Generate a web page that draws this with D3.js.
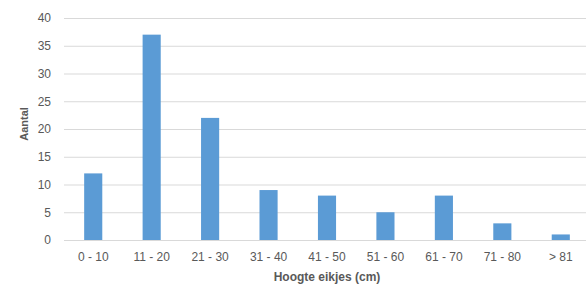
<!DOCTYPE html>
<html>
<head>
<meta charset="utf-8">
<script src="https://cdn.jsdelivr.net/npm/d3@7"></script>
<style>
  body { margin: 0; background: #fff; }
  text { font-family: "Liberation Sans", Arial, sans-serif; fill: #595959; }
</style>
</head>
<body>
<div id="chart"></div>
<script>
// data
const categories = ['0 - 10', '11 - 20', '21 - 30', '31 - 40', '41 - 50', '51 - 60', '61 - 70', '71 - 80', '> 81'];
const counts = [12, 37, 22, 9, 8, 5, 8, 3, 1];
const yTicks = [0, 5, 10, 15, 20, 25, 30, 35, 40];
const xTitle = 'Hoogte eikjes (cm)';
const yTitle = 'Aantal';

const W = 586, H = 284;
const margin = { top: 18, right: -4, bottom: 44, left: 64 };

const svg = d3.select('#chart')
    .append('svg')
    .attr('width', W)
    .attr('height', H);

const x = d3.scaleBand()
    .domain(categories)
    .range([margin.left, W - margin.right])
    .paddingInner(0.69)
    .paddingOuter(0.345);

const y = d3.scaleLinear()
    .domain([0, 40])
    .range([H - margin.bottom, margin.top]);

// gridlines + y labels
const yAxisG = svg.append('g')
    .attr('transform', 'translate(' + margin.left + ',0)')
    .call(d3.axisLeft(y).tickValues(yTicks).tickSize(-(W - margin.left)).tickPadding(13));
yAxisG.select('.domain').remove();
yAxisG.selectAll('.tick line').attr('stroke', '#d9d9d9').attr('stroke-width', 1);
yAxisG.selectAll('.tick text')
    .style('font-size', '12px')
    .attr('fill', '#595959');

// bars
svg.append('g')
    .selectAll('rect')
    .data(counts)
    .join('rect')
    .attr('x', (d, i) => x(categories[i]))
    .attr('y', d => y(d))
    .attr('width', x.bandwidth())
    .attr('height', d => y(0) - y(d))
    .attr('fill', '#5b9bd5');

// x labels
const xAxisG = svg.append('g')
    .attr('transform', 'translate(0,' + y(0) + ')')
    .call(d3.axisBottom(x).tickSize(0).tickPadding(12));
xAxisG.select('.domain').remove();
xAxisG.selectAll('.tick text')
    .style('font-size', '12px')
    .attr('fill', '#595959');

// axis titles
svg.append('text')
    .attr('x', (margin.left + W - margin.right) / 2)
    .attr('y', 281)
    .attr('text-anchor', 'middle')
    .style('font-size', '12px')
    .style('font-weight', 'bold')
    .text(xTitle);

svg.append('text')
    .attr('transform', 'translate(28,' + 124 + ') rotate(-90)')
    .attr('text-anchor', 'middle')
    .style('font-size', '11px')
    .style('font-weight', 'bold')
    .text(yTitle);
</script>
</body>
</html>
